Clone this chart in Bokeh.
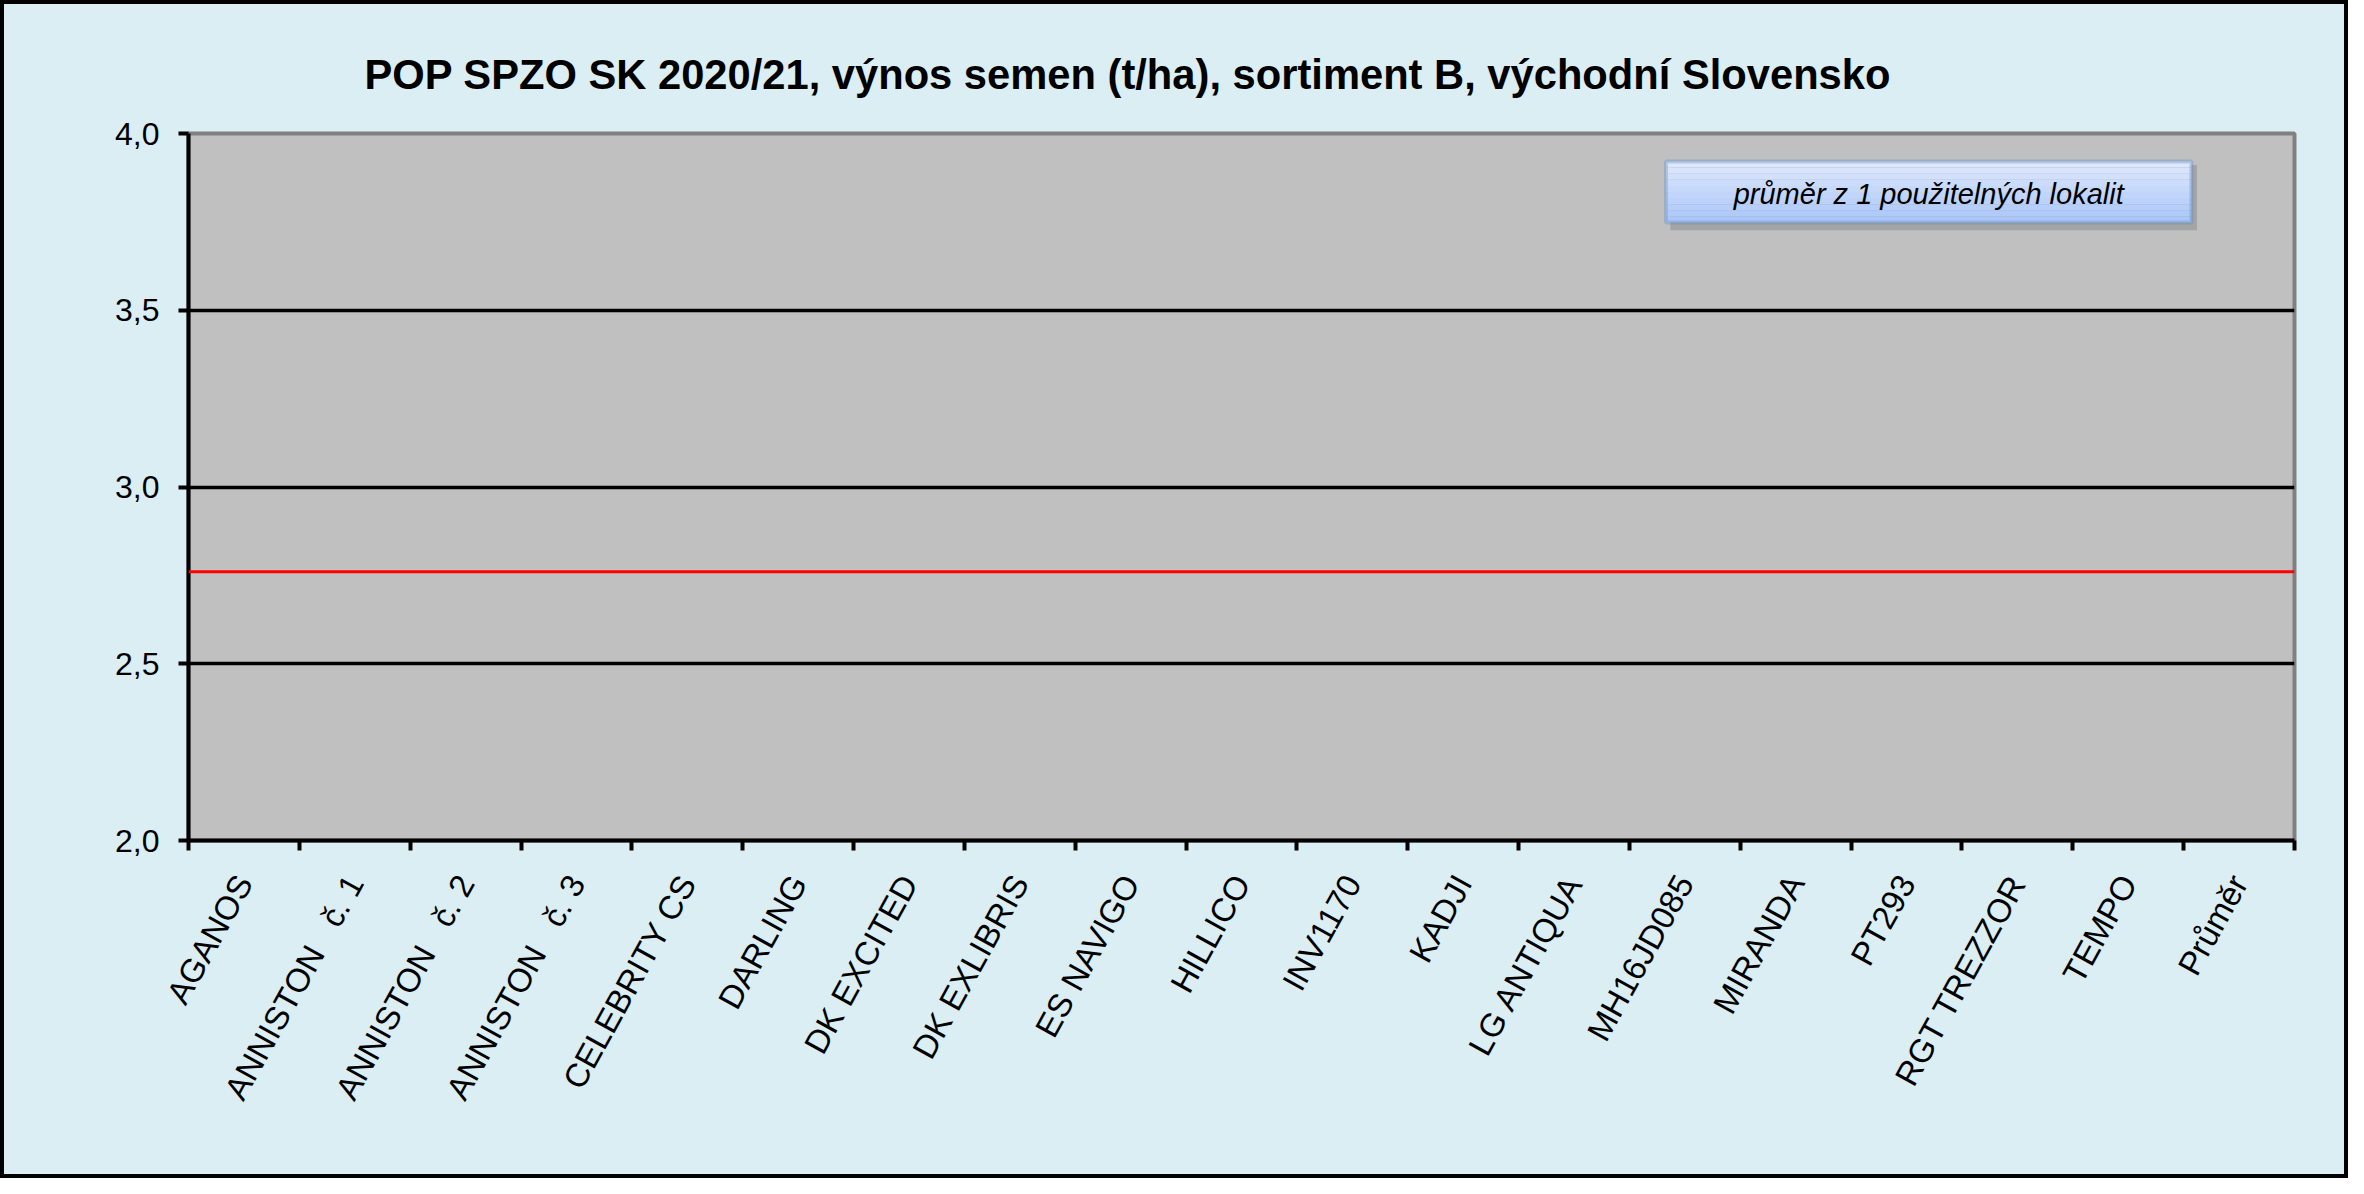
import math
from bokeh.plotting import figure
from bokeh.layouts import column
from bokeh.models import (Range1d, FixedTicker, CustomJSTickFormatter,
                          Span, Label, BoxAnnotation)
from bokeh.embed import file_html
from bokeh.resources import INLINE

# ---- data ----
categories = ["AGANOS", "ANNISTON\u00a0\u00a0\u00a0č. 1", "ANNISTON\u00a0\u00a0\u00a0č. 2",
              "ANNISTON\u00a0\u00a0\u00a0č. 3",
              "CELEBRITY CS", "DARLING", "DK EXCITED", "DK EXLIBRIS", "ES NAVIGO",
              "HILLICO", "INV1170", "KADJI", "LG ANTIQUA", "MH16JD085", "MIRANDA",
              "PT293", "RGT TREZZOR", "TEMPO", "Průměr"]
average_yield = 2.76
y_ticks = [2.0, 2.5, 3.0, 3.5, 4.0]
grid_ticks = [2.5, 3.0, 3.5]
title_text = "POP SPZO SK 2020/21, výnos semen (t/ha), sortiment B, východní Slovensko"
note_text = "průměr z 1 použitelných lokalit"

FONT = "Liberation Sans"
n = len(categories)

W, H = 2340, 1170
p = figure(width=W, height=H, output_backend="svg", toolbar_location=None,
           x_range=Range1d(0, n), y_range=Range1d(y_ticks[0], y_ticks[-1]),
           x_axis_location="below", y_axis_location="left",
           min_border_left=184, min_border_right=50,
           min_border_top=129, min_border_bottom=334,
           background_fill_color="#C0C0C0", border_fill_color="#DBEEF4",
           outline_line_color="#808080", outline_line_width=4)

# title
p.title.text = title_text
p.title.text_font = FONT
p.title.text_font_size = "41.7px"
p.title.text_font_style = "bold"
p.title.text_color = "black"
p.title.align = "left"
p.title.offset = 176
p.title.standoff = 72

# y axis
ya = p.yaxis[0]
ya.ticker = FixedTicker(ticks=y_ticks)
ya.formatter = CustomJSTickFormatter(code="return tick.toFixed(1).replace('.', ',');")
ya.axis_line_color = "black"
ya.axis_line_width = 4
ya.major_tick_line_color = "black"
ya.major_tick_line_width = 4
ya.major_tick_out = 10
ya.major_tick_in = 0
ya.minor_tick_line_color = None
ya.major_label_text_font = FONT
ya.major_label_text_font_size = "32px"
ya.major_label_text_color = "black"
ya.major_label_standoff = 19

# x axis: labels at category centres, tick marks (minor) at category boundaries
xa = p.xaxis[0]
xa.ticker = FixedTicker(ticks=[i + 0.5 for i in range(n)],
                        minor_ticks=list(range(n + 1)))
xa.formatter = CustomJSTickFormatter(args=dict(names=categories),
                                     code="return names[Math.floor(tick)];")
xa.axis_line_color = "black"
xa.axis_line_width = 4
xa.major_tick_line_color = None
xa.major_tick_out = 0
xa.major_tick_in = 0
xa.minor_tick_line_color = "black"
xa.minor_tick_line_width = 4
xa.minor_tick_out = 10
xa.minor_tick_in = 0
xa.major_label_orientation = math.radians(61)
xa.major_label_text_font = FONT
xa.major_label_text_font_size = "33px"
xa.major_label_text_color = "black"
xa.major_label_standoff = 27

# grid
p.xgrid.visible = False
p.ygrid.ticker = FixedTicker(ticks=grid_ticks)
p.ygrid.grid_line_color = "black"
p.ygrid.grid_line_width = 3.5

# average line
p.add_layout(Span(location=average_yield, dimension="width",
                  line_color="#FF0000", line_width=3))

# note box: shadow, gradient bands, border, text
bx0, bx1, by0, by1 = 13.33, 18.07, 3.748, 3.921
p.add_layout(BoxAnnotation(left=bx0 + 0.04, right=bx1 + 0.05, bottom=by0 - 0.022, top=by1 - 0.01,
                           fill_color="#6f6f6f", fill_alpha=0.35, line_color=None))
top_rgb, bot_rgb = (224, 233, 253), (168, 197, 249)
nb = 10
for k in range(nb):
    t = (k + 0.5) / nb
    c = tuple(round(a + (b - a) * t) for a, b in zip(top_rgb, bot_rgb))
    p.add_layout(BoxAnnotation(left=bx0, right=bx1,
                               top=by1 - (by1 - by0) * k / nb,
                               bottom=by1 - (by1 - by0) * (k + 1) / nb,
                               fill_color="#%02x%02x%02x" % c, fill_alpha=1.0,
                               line_color=None))
p.add_layout(BoxAnnotation(left=bx0, right=bx1, bottom=by0, top=by1,
                           fill_color=None, line_color="#4F81BD", line_width=4))
p.add_layout(Label(x=(bx0 + bx1) / 2, y=(by0 + by1) / 2 - 0.006, text=note_text,
                   text_align="center", text_baseline="middle",
                   text_font=FONT, text_font_size="29px", text_font_style="italic",
                   text_color="black"))

layout = column(p, styles={"border": "4px solid black", "background": "#DBEEF4"})

open("out.html", "w").write(file_html(layout, INLINE))
